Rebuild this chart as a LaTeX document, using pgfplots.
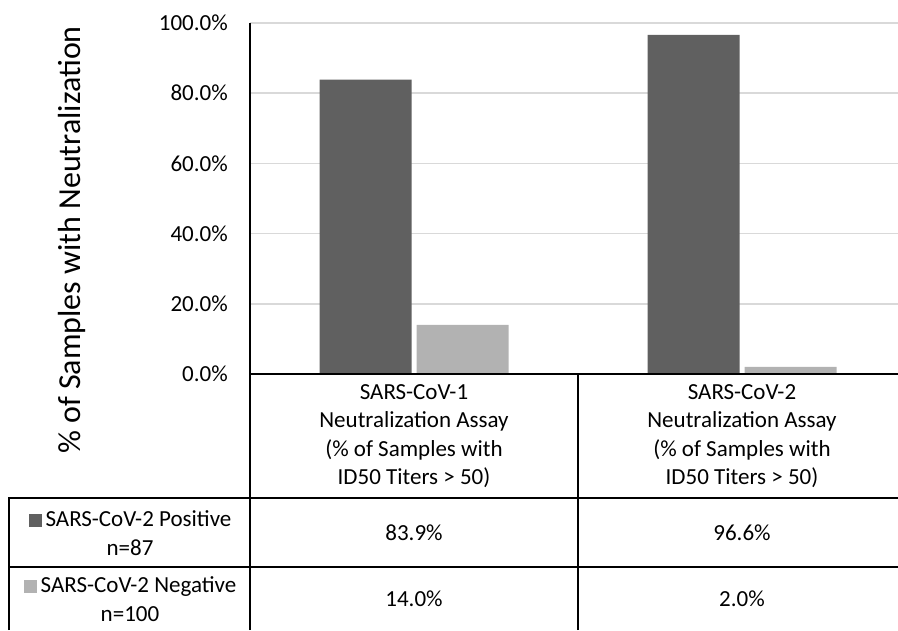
\documentclass[border=0pt]{standalone}
\usepackage{pgfplots}
\pgfplotsset{compat=1.18}
\usepackage{fontspec}
\setmainfont{Carlito}
\definecolor{darkbar}{HTML}{606060}
\definecolor{lightbar}{HTML}{B2B2B2}
\definecolor{gridc}{HTML}{D9D9D9}
\begin{document}
\begin{tikzpicture}[x=1pt,y=1pt]
\useasboundingbox (0,0) rectangle (898,630);
\begin{axis}[
 at={(250pt,256pt)}, anchor=south west,
 scale only axis, width=648pt, height=351pt,
 xmin=0, xmax=1.97561, ymin=0, ymax=100,
 axis line style={draw=none},
 xtick=\empty,
 ytick={0,20,40,60,80,100},
 yticklabels={0.0\%,20.0\%,40.0\%,60.0\%,80.0\%,100.0\%},
 ytick style={draw=none},
 major tick length=0pt,
 /pgf/number format/assume math mode=true,
 yticklabel style={inner sep=0pt, xshift=-22pt, anchor=east},
 tick label style={font=\fontsize{23}{28}\selectfont},
 ymajorgrids, grid style={gridc, line width=1.5pt},
 ybar, bar width=92pt,
 ylabel={\% of Samples with Neutralization},
 ylabel style={at={(axis description cs:-0.2747,0.3818)}, anchor=center, font=\fontsize{32}{38}\selectfont},
]
\addplot[fill=darkbar, draw=none, bar shift=-48.5pt] coordinates {(0.5,83.9) (1.5,96.6)};
\addplot[fill=lightbar, draw=none, bar shift=48.5pt] coordinates {(0.5,14.0) (1.5,2.0)};
\end{axis}
\begin{scope}[line width=2.5pt]
\draw (250,0) -- (250,607);
\draw (250,256) -- (898,256);
\draw (578,0) -- (578,256);
\draw (9,0) -- (9,132) -- (898,132);
\draw (9,63) -- (898,63);
\end{scope}
\begin{scope}[every node/.style={font=\fontsize{23}{28.5}\selectfont, align=center}]
\node at (414,194) {SARS-CoV-1\\Neutralization Assay\\(\% of Samples with\\ID50 Titers > 50)};
\node at (742,194) {SARS-CoV-2\\Neutralization Assay\\(\% of Samples with\\ID50 Titers > 50)};
\node at (130,97) {\textcolor{darkbar}{\rule{13pt}{13pt}}\hspace{4pt}SARS-CoV-2 Positive\\n=87};
\node at (130,31) {\textcolor{lightbar}{\rule{13pt}{13pt}}\hspace{4pt}SARS-CoV-2 Negative\\n=100};
\node at (414,97) {83.9\%};
\node at (742,97) {96.6\%};
\node at (414,31) {14.0\%};
\node at (742,31) {2.0\%};
\end{scope}
\end{tikzpicture}
\end{document}
